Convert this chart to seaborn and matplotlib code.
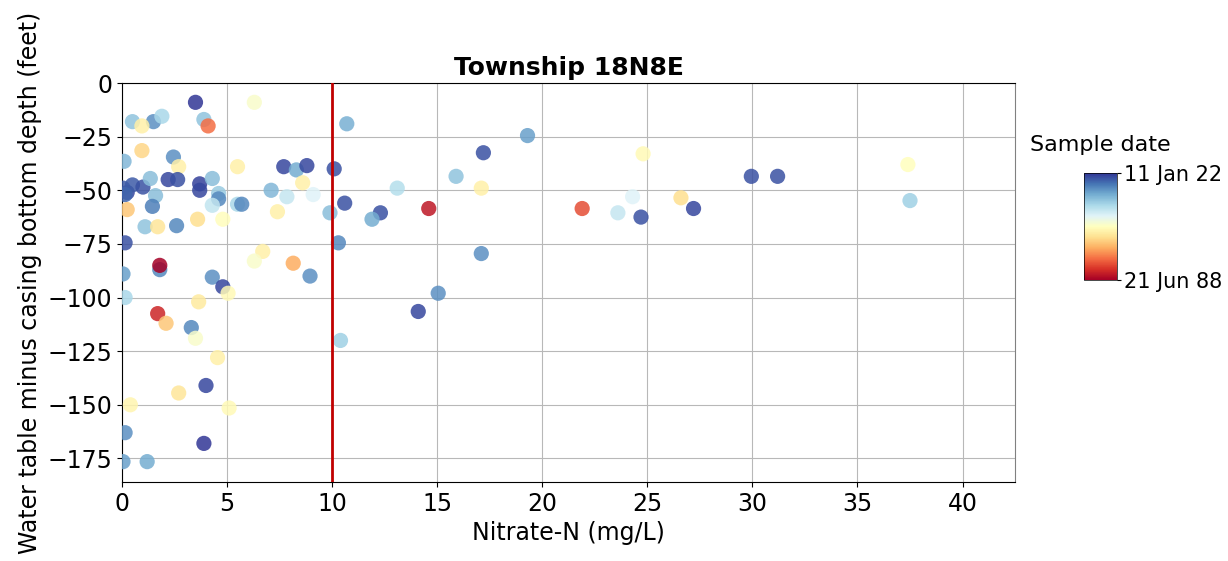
"""Township 18N8E: nitrate vs. water table minus casing bottom depth, coloured by sample date."""

import matplotlib
matplotlib.use("Agg")
import matplotlib.pyplot as plt
import numpy as np
import pandas as pd
import seaborn as sns
from matplotlib.cm import ScalarMappable
from matplotlib.colors import Normalize

# Nitrate-N (mg/L)
nitrate = [
    3.5, 0.5, 1.5, 1.9, 3.9, 4.1, 6.3, 0.95, 0.95, 2.45,
    0.1, 2.7, 5.5, 7.7, 8.3, 8.8, 8.6, 0.25, 0.5, 1.0,
    0.05, 0.15, 1.35, 2.2, 2.65, 3.7, 3.7, 4.3, 4.6, 4.6,
    4.3, 1.6, 1.45, 0.25, 1.1, 1.7, 2.6, 3.6, 4.8, 5.5,
    5.7, 7.1, 7.85, 7.4, 9.1, 9.9, 0.15, 6.7, 8.15, 1.8,
    1.8, 8.95, 4.3, 6.3, 0.05, 4.8, 5.05, 0.15, 3.65, 1.7,
    2.1, 3.3, 3.5, 4.55, 4.0, 2.7, 0.4, 5.1, 0.15, 3.9,
    0.05, 1.2, 10.7, 19.3, 17.2, 10.1, 15.9, 13.1, 17.1, 10.6,
    12.3, 11.9, 14.6, 21.9, 23.6, 24.7, 24.3, 24.8, 26.6, 27.2,
    29.95, 31.2, 37.4, 37.5, 10.3, 17.1, 15.05, 14.1, 10.4,
]

# Water table minus casing bottom depth (feet)
depth = [
    -9, -18, -18, -15.5, -17, -20, -9, -31.5, -20, -34.5,
    -36.5, -39, -39, -39, -40.5, -38.5, -46.5, -51, -47.5, -48.5,
    -49, -52, -44.5, -45, -45, -47, -50, -44.5, -51.5, -54,
    -57, -52.5, -57.5, -59, -67, -67, -66.5, -63.5, -63.5, -56.5,
    -56.5, -50, -53, -60, -52, -60.5, -74.5, -78.5, -84, -87,
    -85, -90, -90.5, -83, -89, -95, -98, -100, -102, -107.5,
    -112, -114, -119, -128, -141, -144.5, -150, -151.5, -163, -168,
    -176.5, -176.5, -19, -24.5, -32.5, -40, -43.5, -49, -49, -56,
    -60.5, -63.5, -58.5, -58.5, -60.5, -62.5, -53, -33, -53.5, -58.5,
    -43.5, -43.5, -38, -54.8, -74.5, -79.5, -98, -106.5, -120,
]

# Sample date as decimal year
sample_year = [
    2022.0, 2013.6, 2017.0, 2012.0, 2013.6, 1995.2, 2006.0, 2001.2, 2003.6, 2017.0,
    2014.5, 2003.6, 2003.6, 2021.0, 2015.3, 2021.0, 2003.6, 2021.0, 2020.0, 2020.5,
    2020.0, 2019.5, 2014.0, 2021.0, 2020.5, 2021.5, 2021.0, 2014.0, 2013.0, 2017.5,
    2010.5, 2014.0, 2018.0, 2000.2, 2013.6, 2002.6, 2017.5, 2001.9, 2005.0, 2012.0,
    2017.5, 2014.5, 2010.3, 2003.6, 2008.6, 2014.0, 2020.5, 2003.6, 1998.5, 2017.5,
    1988.5, 2017.0, 2017.0, 2006.0, 2016.0, 2021.0, 2004.6, 2012.0, 2002.9, 1991.2,
    2000.2, 2017.5, 2006.0, 2003.6, 2021.0, 2002.6, 2004.2, 2004.6, 2017.0, 2022.0,
    2016.0, 2015.3, 2015.0, 2016.0, 2020.5, 2020.5, 2013.6, 2011.3, 2003.6, 2020.5,
    2020.5, 2015.3, 1990.1, 1993.5, 2010.3, 2020.5, 2008.6, 2004.6, 2001.9, 2021.0,
    2020.5, 2020.5, 2005.2, 2012.6, 2017.5, 2017.0, 2017.0, 2021.0, 2012.6,
]

date_min, date_max = 1988.47, 2022.03
date_labels = ["21 Jun 88", "11 Jan 22"]
mcl = 10

df = pd.DataFrame({"nitrate": nitrate, "depth": depth, "year": sample_year})

fig = plt.figure(figsize=(12.28, 5.61), dpi=100)
ax = fig.add_axes([0.0993, 0.1408, 0.7273, 0.7112])

sns.scatterplot(
    data=df, x="nitrate", y="depth", hue="year",
    palette="RdYlBu", hue_norm=(date_min, date_max),
    s=120, linewidth=0, alpha=0.85, legend=False, ax=ax, zorder=3,
)
ax.axvline(mcl, color="#c00000", lw=2, zorder=4)

ax.set_xlim(0, 42.5)
ax.set_ylim(-186, 0)
ax.set_xticks(np.arange(0, 41, 5))
ax.set_yticks(np.arange(-175, 1, 25))
ax.grid(True, color="#b8b8b8", lw=0.8, zorder=0)
ax.spines["right"].set_color("#808080")
ax.tick_params(labelsize=17)
ax.set_xlabel("Nitrate-N (mg/L)", fontsize=17)
ax.set_ylabel("Water table minus casing bottom depth (feet)", fontsize=17)
ax.set_title("Township 18N8E", fontsize=18, fontweight="bold")

# Colorbar for sample date
cax = fig.add_axes([0.8827, 0.5009, 0.0269, 0.1907])
sm = ScalarMappable(norm=Normalize(date_min, date_max), cmap="RdYlBu")
cb = fig.colorbar(sm, cax=cax)
cb.set_ticks([date_min, date_max])
cb.set_ticklabels(date_labels)
cb.ax.tick_params(labelsize=15, length=3, pad=2)
cb.outline.set_linewidth(0.5)
fig.text(1100 / 1228, 1 - 145 / 561, "Sample date", fontsize=16, ha="center", va="center")

plt.savefig("out.png", dpi=100)
print("Saved out.png")
